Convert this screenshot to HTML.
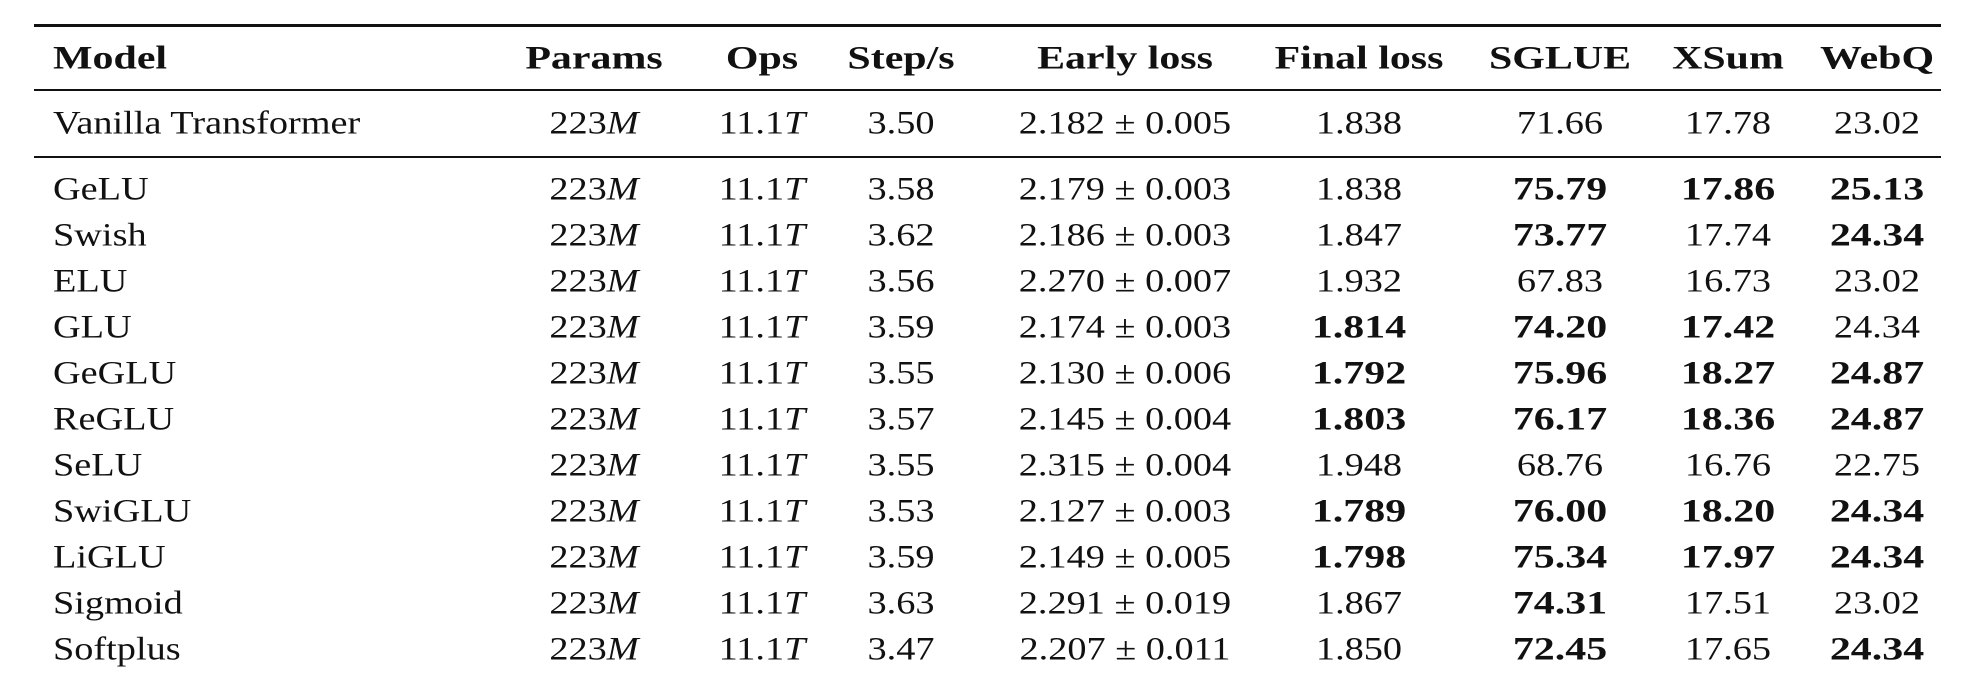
<!DOCTYPE html>
<html><head><meta charset="utf-8"><style>
html,body{margin:0;padding:0;background:#fff;}
#wrap{position:relative;width:1968px;height:694px;overflow:hidden;font-family:"Liberation Serif","DejaVu Serif",serif;color:#111;font-size:33px;}
.rule{position:absolute;left:34px;width:1907px;background:#111;}
.c{position:absolute;white-space:nowrap;transform:translate(-50%,-50%) scaleX(1.16);transform-origin:center center;}
.l{position:absolute;white-space:nowrap;transform:translateY(-50%) scaleX(1.16);transform-origin:left center;}
.c.b{transform:translate(-50%,-50%) scaleX(1.27);}
.l.b{transform:translateY(-50%) scaleX(1.27);}
.b{font-weight:bold;}
i{font-style:italic;}
</style></head><body>
<div id="wrap">
<div class="rule" style="top:24px;height:3px"></div>
<div class="rule" style="top:89px;height:2px"></div>
<div class="rule" style="top:156px;height:2px"></div>
</div>
<script>
const headers=["Model","Params","Ops","Step/s","Early loss","Final loss","SGLUE","XSum","WebQ"];
const models=["Vanilla Transformer","GeLU","Swish","ELU","GLU","GeGLU","ReGLU","SeLU","SwiGLU","LiGLU","Sigmoid","Softplus"];
const steps=["3.50","3.58","3.62","3.56","3.59","3.55","3.57","3.55","3.53","3.59","3.63","3.47"];
const early=["2.182 ± 0.005","2.179 ± 0.003","2.186 ± 0.003","2.270 ± 0.007","2.174 ± 0.003","2.130 ± 0.006","2.145 ± 0.004","2.315 ± 0.004","2.127 ± 0.003","2.149 ± 0.005","2.291 ± 0.019","2.207 ± 0.011"];
const finalLoss=["1.838","1.838","1.847","1.932","1.814*","1.792*","1.803*","1.948","1.789*","1.798*","1.867","1.850"];
const sglue=["71.66","75.79*","73.77*","67.83","74.20*","75.96*","76.17*","68.76","76.00*","75.34*","74.31*","72.45*"];
const xsum=["17.78","17.86*","17.74","16.73","17.42*","18.27*","18.36*","16.76","18.20*","17.97*","17.51","17.65"];
const webq=["23.02","25.13*","24.34*","23.02","24.34","24.87*","24.87*","22.75","24.34*","24.34*","23.02","24.34*"];
const colX=[53,594,762,901,1125,1359,1560,1728,1877];
const wrap=document.getElementById('wrap');
function cell(txt,x,y,cls,name,html){
  const d=document.createElement('div');
  d.className=cls;
  d.style.left=x+'px';d.style.top=y+'px';
  if(html)d.innerHTML=txt;else d.textContent=txt;
  
  
  wrap.appendChild(d);
}
headers.forEach((h,j)=>{
  cell(h,colX[j],59,(j===0?'l':'c')+' b','header-'+h.toLowerCase().replace(/[^a-z]+/g,'-'));
});
function rowY(i){return i===0?124:190+(i-1)*46;}
models.forEach((m,i)=>{
  const y=rowY(i);
  cell(m,colX[0],y,'l','model-name');
  cell('223<i>M</i>',colX[1],y,'c','params-cell',true);
  cell('11.1<i>T</i>',colX[2],y,'c','ops-cell',true);
  cell(steps[i],colX[3],y,'c','steps-cell');
  cell(early[i],colX[4],y,'c','early-loss-cell');
  [[finalLoss,5,'final-loss-cell'],[sglue,6,'sglue-cell'],[xsum,7,'xsum-cell'],[webq,8,'webq-cell']].forEach(([arr,j,n])=>{
    const v=arr[i];const bold=v.endsWith('*');
    cell(v.replace('*',''),colX[j],y,'c'+(bold?' b':''),n);
  });
});
</script>
</body></html>
